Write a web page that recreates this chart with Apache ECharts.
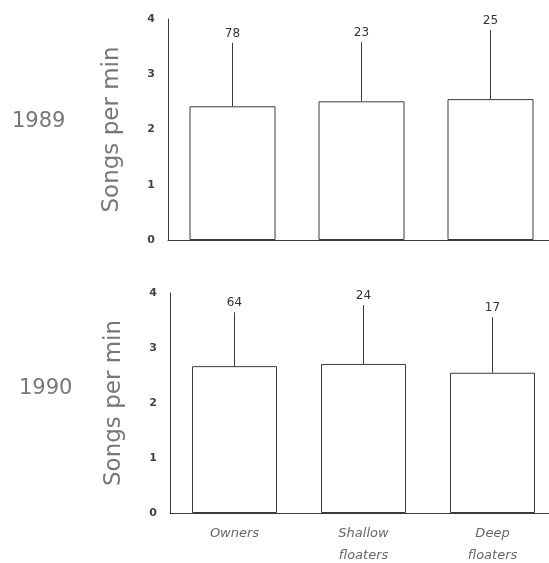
<!DOCTYPE html>
<html>
<head>
<meta charset="utf-8">
<script src="https://cdn.jsdelivr.net/npm/echarts@6/dist/echarts.min.js"></script>
<style>html,body{margin:0;padding:0;background:#fff;}#c{width:549px;height:563px;}</style>
</head>
<body>
<div id="c"></div>
<script>
var categories = ['Owners', 'Shallow\nfloaters', 'Deep\nfloaters'];
var years = ['1989', '1990'];
var means1989 = [2.42, 2.51, 2.55];
var upper1989 = [3.57, 3.58, 3.80];
var n1989 = [78, 23, 25];
var means1990 = [2.67, 2.71, 2.55];
var upper1990 = [3.65, 3.78, 3.56];
var n1990 = [64, 24, 17];
var yTicks = [0, 1, 2, 3, 4];

var ink = '#3a3a3a';
var textInk = '#666';

function errData(means, upper, ns) {
  return means.map(function (m, i) { return [i, m, upper[i], ns[i]]; });
}
function renderErr(params, api) {
  var x = api.value(0);
  var p0 = api.coord([x, api.value(1)]);
  var p1 = api.coord([x, api.value(2)]);
  return {
    type: 'group',
    children: [
      { type: 'line', shape: { x1: p0[0], y1: p0[1], x2: p1[0], y2: p1[1] },
        style: { stroke: ink, lineWidth: 1 } },
      { type: 'text', x: p1[0], y: p1[1] - 3,
        style: { text: String(api.value(3)), fill: '#333', font: '12px "DejaVu Sans"',
                 align: 'center', verticalAlign: 'bottom' } }
    ]
  };
}
function xAxis(gi, show) {
  return {
    type: 'category', gridIndex: gi, data: categories,
    axisLine: { show: true, lineStyle: { color: ink, width: 1 } },
    axisTick: { show: false },
    axisLabel: { show: show, color: textInk, fontStyle: 'italic', fontSize: 13,
                 fontFamily: 'DejaVu Sans', margin: 10, lineHeight: 22 }
  };
}
function yAxis(gi) {
  return {
    type: 'value', gridIndex: gi, min: yTicks[0], max: yTicks[yTicks.length - 1], interval: 1,
    name: 'Songs per min', nameLocation: 'middle', nameGap: 44, nameRotate: 90,
    nameTextStyle: { color: '#777', fontSize: 23, fontFamily: 'DejaVu Sans' },
    axisLine: { show: true, lineStyle: { color: ink, width: 1 } },
    axisTick: { show: false },
    splitLine: { show: false },
    axisLabel: { color: '#444', fontSize: 11, fontWeight: 'bold', fontFamily: 'DejaVu Sans', margin: 13 }
  };
}

var chart = echarts.init(document.getElementById('c'), null, { renderer: 'canvas' });
chart.setOption({
  backgroundColor: '#fff',
  animation: false,
  grid: [
    { left: 168, top: 19, width: 387, height: 221, outerBoundsMode: 'none', containLabel: false },
    { left: 170, top: 293, width: 387, height: 220, outerBoundsMode: 'none', containLabel: false }
  ],
  title: [
    { text: years[0], left: 7, top: 106, textStyle: { color: '#777', fontSize: 21, fontWeight: 'normal', fontFamily: 'DejaVu Sans' } },
    { text: years[1], left: 14, top: 373, textStyle: { color: '#777', fontSize: 21, fontWeight: 'normal', fontFamily: 'DejaVu Sans' } }
  ],
  xAxis: [xAxis(0, false), xAxis(1, true)],
  yAxis: [yAxis(0), yAxis(1)],
  series: [
    { type: 'bar', xAxisIndex: 0, yAxisIndex: 0, data: means1989, barWidth: 86,
      itemStyle: { color: '#fff', borderColor: ink, borderWidth: 1 } },
    { type: 'custom', xAxisIndex: 0, yAxisIndex: 0, data: errData(means1989, upper1989, n1989),
      renderItem: renderErr, z: 5 },
    { type: 'bar', xAxisIndex: 1, yAxisIndex: 1, data: means1990, barWidth: 85,
      itemStyle: { color: '#fff', borderColor: ink, borderWidth: 1 } },
    { type: 'custom', xAxisIndex: 1, yAxisIndex: 1, data: errData(means1990, upper1990, n1990),
      renderItem: renderErr, z: 5 }
  ]
});
</script>
</body>
</html>
